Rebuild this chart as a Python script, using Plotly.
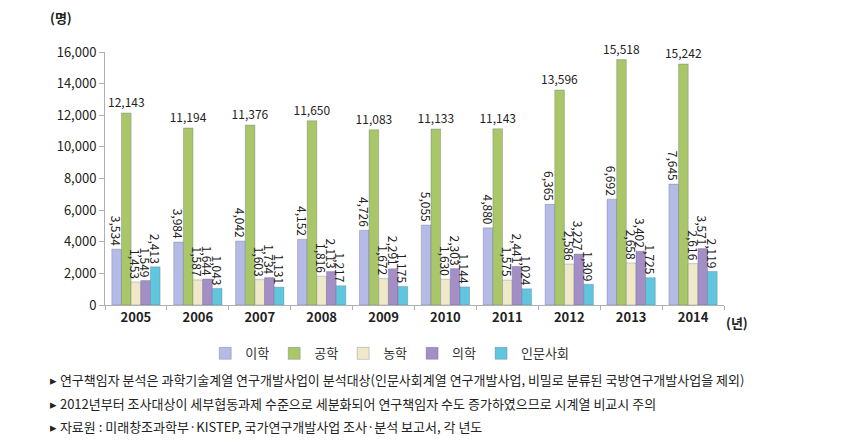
import plotly.graph_objects as go

years = ["2005", "2006", "2007", "2008", "2009", "2010", "2011", "2012", "2013", "2014"]
series_names = ["이학", "공학", "농학", "의학", "인문사회"]

natural_sci = [3534, 3984, 4042, 4152, 4726, 5055, 4880, 6365, 6692, 7645]
engineering = [12143, 11194, 11376, 11650, 11083, 11133, 11143, 13596, 15518, 15242]
agriculture = [1453, 1587, 1603, 1816, 1672, 1630, 1575, 2586, 2658, 2616]
medicine = [1549, 1644, 1734, 2113, 2291, 2303, 2441, 3227, 3402, 3571]
humanities = [2413, 1043, 1131, 1217, 1175, 1144, 1024, 1309, 1725, 2119]

notes = [
    "▸ 연구책임자 분석은 과학기술계열 연구개발사업이 분석대상(인문사회계열 연구개발사업, 비밀로 분류된 국방연구개발사업을 제외)",
    "▸ 2012년부터 조사대상이 세부협동과제 수준으로 세분화되어 연구책임자 수도 증가하였으므로 시계열 비교시 주의",
    "▸ 자료원 : 미래창조과학부·KISTEP, 국가연구개발사업 조사·분석 보고서, 각 년도",
]

colors = ["#b3bbe6", "#a9c768", "#efe9c9", "#a38fc6", "#5fc6de"]
values = [natural_sci, engineering, agriculture, medicine, humanities]
font_family = "Noto Sans CJK KR"

fig = go.Figure()
for name, vals, color in zip(series_names, values, colors):
    fig.add_trace(go.Bar(
        x=years,
        y=vals,
        name=name,
        marker=dict(color=color, line=dict(width=0.5, color="rgba(90,90,120,0.6)")),
        text=[f"{v:,}" for v in vals],
        textposition="outside",
        textangle=0 if name == "공학" else 90,
        textfont=dict(size=12, color="#222222"),
        cliponaxis=False,
    ))

fig.update_layout(
    width=859,
    height=444,
    barmode="group",
    bargap=0.22,
    bargroupgap=0,
    plot_bgcolor="white",
    paper_bgcolor="white",
    font=dict(family=font_family, size=13, color="#222222"),
    margin=dict(l=97, r=143, t=44, b=147),
    uniformtext=dict(minsize=12, mode="show"),
    xaxis=dict(
        showline=True,
        linecolor="#b0b0b0",
        ticks="outside",
        tickson="boundaries",
        ticklen=4,
        tickcolor="#b0b0b0",
        tickfont=dict(size=13, color="#222222", weight="bold"),
    ),
    yaxis=dict(
        range=[0, 16000],
        dtick=2000,
        tickformat=",",
        showgrid=False,
        zeroline=False,
        showline=True,
        linecolor="#b0b0b0",
        ticks="outside",
        ticklen=5,
        tickcolor="#b0b0b0",
        tickfont=dict(size=13, color="#222222"),
    ),
    legend=dict(
        orientation="h",
        x=0.46,
        xanchor="center",
        y=-0.132,
        yanchor="top",
        font=dict(size=13, color="#333333"),
        itemwidth=30,
        traceorder="normal",
    ),
    showlegend=True,
)

fig.add_annotation(text="<b>(명)</b>", xref="paper", yref="paper", x=-0.092, y=1.09,
                   xanchor="left", yanchor="bottom", showarrow=False,
                   font=dict(size=13, color="#222222"))
fig.add_annotation(text="<b>(년)</b>", xref="paper", yref="paper", x=1.0, y=-0.025,
                   xanchor="left", yanchor="top", showarrow=False,
                   font=dict(size=13, color="#222222"))

for i, note in enumerate(notes):
    fig.add_annotation(text=note, xref="paper", yref="paper", x=-0.092, y=-0.25 - i * 0.093,
                       xanchor="left", yanchor="top", showarrow=False, align="left",
                       font=dict(size=13, color="#222222"))

fig.write_html("out.html")
